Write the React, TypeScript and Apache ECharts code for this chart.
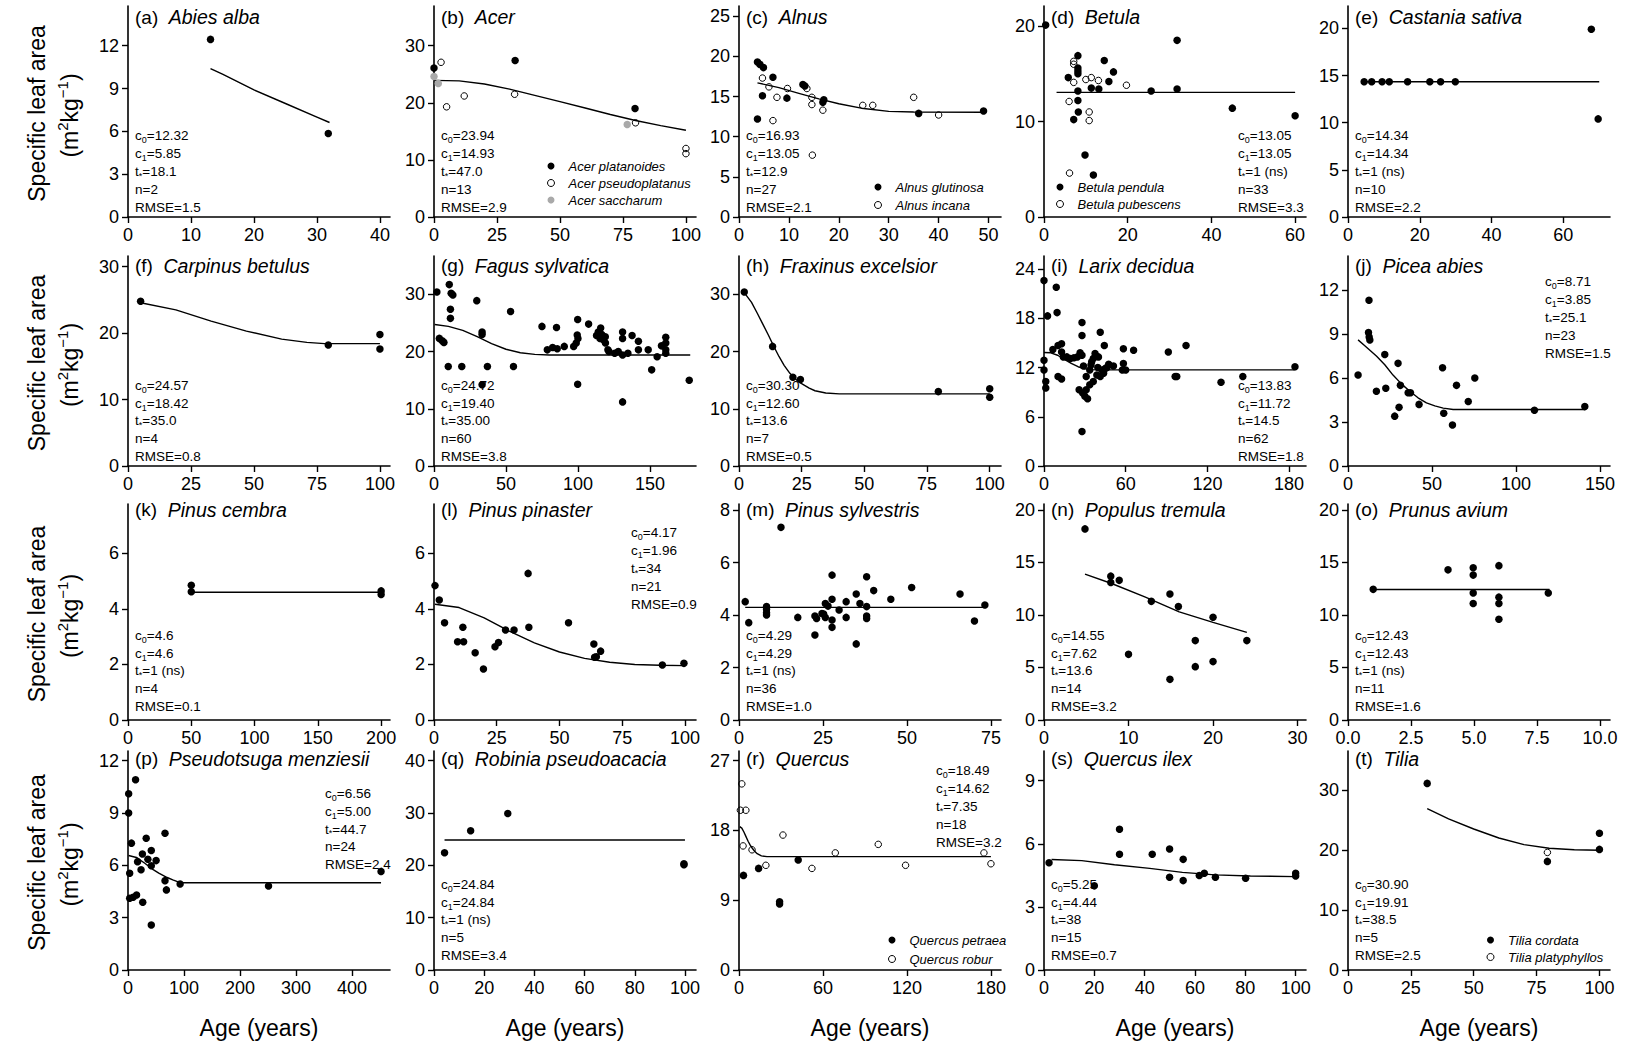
import React, { useEffect, useRef } from "react";
import * as echarts from "echarts";

const FONT = "'Liberation Sans', Arial, Helvetica, sans-serif";

// ---------- page layout (pixels) ----------
const CANVAS_W = 1625;
const CANVAS_H = 1044;
const COL_LEFT = [128, 434, 739, 1044, 1348];
const ROW_TOP = [6, 256, 504, 751];
const ROW_BOTTOM = [217, 466, 720, 970];
const PLOT_W = 262;
const TITLE_Y = [17, 265.5, 509.5, 758.5];
const STATS_LAST = [10, 9.5, 13.5, 14.5];
const STATS_LINE = 17.8;

// ---------- observations (age in years, SLA in m2/kg) ----------
// (a) Abies alba
const abiesAlba = [[13.1, 12.44], [31.8, 5.85]];
const abiesAlbaFit = [[13.1, 10.4], [15, 10.0], [20, 8.9], [25, 7.95], [30, 7.0], [32, 6.62]];
const abiesAlbaStats = ["12.32", "5.85", "18.1", "2", "1.5"];

// (b) Acer
const acerPlatanoides = [[0, 26.1], [32.2, 27.4], [79.8, 19.0]];
const acerPseudoplatanus = [[2.8, 27.1], [5, 19.3], [12, 21.2], [32, 21.5], [80, 16.5], [100, 12.0], [100, 11.1]];
const acerSaccharum = [[0, 24.6], [1.7, 23.4], [76.7, 16.2]];
const acerFit = [[0, 23.94], [10, 23.85], [20, 23.3], [30, 22.4], [40, 21.3], [50, 20.2], [60, 19.1], [70, 17.95], [80, 16.9], [90, 16.0], [100, 15.2]];
const acerStats = ["23.94", "14.93", "47.0", "13", "2.9"];

// (c) Alnus
const alnusGlutinosa = [[3.7, 19.3], [4.2, 19.0], [4.9, 18.6], [3.7, 12.2], [4.7, 15.1], [6.8, 17.4], [9.6, 14.8], [12.8, 16.5], [13.2, 16.3], [16.8, 14.3], [17, 14.6], [36, 12.9], [49, 13.2]];
const alnusIncana = [[4.7, 17.3], [6, 16.2], [6.8, 12.0], [7.6, 14.9], [9.7, 16.0], [13.6, 16.0], [14.6, 14.9], [14.6, 14.0], [14.7, 7.7], [16.8, 13.3], [24.8, 13.9], [26.8, 13.9], [35, 14.9], [40, 12.7]];
const alnusFit = [[3.7, 16.7], [8, 16.1], [12, 15.4], [16, 14.7], [20, 14.1], [25, 13.5], [30, 13.15], [35, 13.07], [49, 13.05]];
const alnusStats = ["16.93", "13.05", "12.9", "27", "2.1"];

// (d) Betula
const betulaPendula = [[0.4, 20.1], [5.8, 14.6], [8.1, 16.9], [8.1, 15.3], [8.1, 15.0], [8.1, 13.2], [8.1, 12.2], [7.1, 10.2], [8.2, 11.0], [11.3, 13.5], [9.8, 6.5], [11.8, 4.4], [13.1, 13.4], [14.4, 16.4], [15.5, 14.2], [16.6, 15.2], [25.6, 13.2], [31.8, 18.5], [31.8, 13.4], [45, 11.4], [60, 10.6], [8.1, 15.6]];
const betulaPubescens = [[7.1, 16.3], [7.1, 14.1], [6, 12.1], [10.8, 11.0], [10.8, 10.1], [10, 14.4], [6.1, 4.6], [11.3, 14.6], [13, 14.3], [19.7, 13.8], [7.1, 16.0]];
const betulaFit = [[3, 13.05], [60, 13.05]];
const betulaStats = ["13.05", "13.05", "1 (ns)", "33", "3.3"];

// (e) Castania sativa
const castaneaSativa = [[4.5, 14.34], [6.6, 14.34], [9.5, 14.34], [11.5, 14.34], [16.6, 14.34], [22.8, 14.34], [25.8, 14.34], [29.9, 14.34], [67.8, 19.9], [69.7, 10.4]];
const castaneaFit = [[4.5, 14.34], [70, 14.34]];
const castaneaStats = ["14.34", "14.34", "1 (ns)", "10", "2.2"];

// (f) Carpinus betulus
const carpinusBetulus = [[5, 24.8], [79.5, 18.2], [100, 19.8], [100, 17.6]];
const carpinusFit = [[5, 24.57], [19, 23.5], [33, 21.8], [47, 20.3], [61, 19.1], [71, 18.6], [78, 18.42], [100, 18.42]];
const carpinusStats = ["24.57", "18.42", "35.0", "4", "0.8"];

// (g) Fagus sylvatica
const fagusSylvatica = [
  [2, 30.4], [3.7, 22.3], [5.7, 21.9], [6.9, 21.6], [10.6, 31.7], [11.9, 30.2], [13.1, 29.9], [11.4, 27.4], [11.4, 25.8], [9.9, 17.4],
  [19.3, 17.4], [29.7, 28.9], [33.4, 23.4], [33.4, 23.0], [33.4, 14.2], [37.1, 17.4], [53.2, 27.0], [55.2, 17.4], [75, 24.4], [78.7, 20.3],
  [82.4, 20.7], [85.6, 20.5], [90.5, 20.9], [85.1, 24.2], [97, 20.9], [98.8, 21.5], [99.5, 22.9], [100, 22.3], [99.8, 25.6], [99.8, 14.3],
  [107.4, 24.8], [112.9, 22.8], [114.1, 23.4], [115.8, 24.1], [115.3, 22.3], [117.8, 22.0], [119.1, 21.5], [120.8, 20.3], [121.5, 20.0], [125.5, 19.7],
  [131, 19.4], [134.7, 19.7], [131, 23.4], [131, 22.3], [131, 11.2], [137.6, 22.8], [142, 21.8], [142, 20.3], [148.8, 20.3], [151.2, 16.8],
  [155, 19.1], [161, 22.5], [161, 21.5], [161, 20.3], [161, 19.7], [177.3, 15.0], [116.5, 23.0], [119, 22.6], [128, 20.0], [158, 21.0],
];
const fagusFit = [[0.5, 24.72], [10, 24.4], [20, 23.7], [30, 22.6], [40, 21.4], [50, 20.4], [60, 19.8], [70, 19.5], [80, 19.4], [178, 19.4]];
const fagusStats = ["24.72", "19.40", "35.00", "60", "3.8"];

// (h) Fraxinus excelsior
const fraxinusExcelsior = [[2.1, 30.4], [13.4, 20.9], [21.5, 15.5], [24.5, 15.1], [79.5, 13.0], [100, 13.5], [100, 12.0]];
const fraxinusFit = [[2.1, 30.3], [5, 28.6], [7.4, 26.6], [9.5, 24.8], [11.7, 22.9], [14, 20.8], [16, 19.1], [18, 17.6], [20.3, 16.2], [22.8, 15.1], [25.3, 14.3], [28, 13.6], [30.3, 13.15], [34.6, 12.75], [40, 12.6], [100, 12.6]];
const fraxinusStats = ["30.30", "12.60", "13.6", "7", "0.5"];

// (i) Larix decidua
const larixDecidua = [
  [0, 22.6], [2.6, 18.3], [0, 12.9], [0, 11.7], [1.3, 10.3], [1.3, 9.5], [9, 21.8], [9.6, 18.7], [6.5, 14.2], [10.3, 14.7],
  [12.9, 14.9], [12.9, 13.9], [14.2, 13.3], [10.3, 10.9], [12.9, 10.6], [16.8, 13.3], [19.4, 13.1], [22, 13.2], [24.5, 13.3], [27.9, 17.5],
  [27.9, 15.9], [27.9, 13.5], [27.9, 4.2], [25.8, 9.3], [28.4, 8.9], [31, 9.3], [33.6, 9.9], [36.2, 10.3], [38.8, 11.1], [31, 10.9],
  [33.6, 11.7], [36.2, 13.1], [40, 13.3], [41.3, 16.3], [44.3, 14.7], [35, 12.7], [37.5, 13.7], [41.3, 10.9], [43.8, 11.3], [30, 8.5],
  [32, 8.2], [42.5, 11.7], [45, 11.9], [46.3, 12.0], [58.3, 14.3], [58.3, 12.5], [57.5, 11.7], [60, 11.7], [65.8, 14.1], [91.3, 13.9],
  [96.3, 10.9], [97.5, 10.9], [104.3, 14.7], [130, 10.2], [146, 10.9], [184.3, 12.1], [26.5, 13.8], [29, 12.2], [34.5, 12.3], [39.5, 12.0],
  [47.5, 12.4], [51, 12.2],
];
const larixFit = [[0, 13.83], [5, 13.8], [10, 13.5], [15, 13.0], [20, 12.5], [25, 12.1], [30, 11.85], [35, 11.75], [40, 11.72], [184, 11.72]];
const larixStats = ["13.83", "11.72", "14.5", "62", "1.8"];

// (j) Picea abies
const piceaAbies = [[6, 6.2], [12.5, 11.3], [12.2, 9.1], [12.6, 8.8], [13, 8.6], [16.9, 5.1], [21.9, 7.6], [22.5, 5.3], [27.8, 3.4], [29.8, 7.0], [30.4, 4.0], [31.2, 5.5], [35.8, 5.0], [37.2, 5.0], [42.3, 4.2], [56.3, 6.7], [57, 3.6], [62.2, 2.8], [64.6, 5.5], [71.6, 4.4], [75.5, 6.0], [111, 3.8], [141, 4.05]];
const piceaFit = [[6, 8.6], [10, 8.2], [16.9, 7.5], [21.9, 6.9], [26.8, 6.2], [31.8, 5.6], [36.8, 5.1], [41.7, 4.65], [46.7, 4.3], [51.7, 4.1], [56.7, 3.95], [62.6, 3.85], [141, 3.85]];
const piceaStats = ["8.71", "3.85", "25.1", "23", "1.5"];

// (k) Pinus cembra
const pinusCembra = [[50, 4.85], [50, 4.62], [200, 4.65], [200, 4.52]];
const cembraFit = [[50, 4.6], [200, 4.6]];
const cembraStats = ["4.6", "4.6", "1 (ns)", "4", "0.1"];

// (l) Pinus pinaster
const pinusPinaster = [[0.4, 4.84], [2.1, 4.32], [4.2, 3.5], [9.4, 2.82], [11.8, 2.82], [11.5, 3.34], [16.4, 2.42], [19.7, 1.84], [24.3, 2.64], [25.7, 2.79], [28.5, 3.24], [31.9, 3.24], [37.5, 5.28], [37.8, 3.34], [53.6, 3.5], [63.7, 2.74], [64, 2.26], [64.7, 2.28], [66.4, 2.48], [91, 1.98], [99.6, 2.04]];
const pinasterFit = [[0.4, 4.17], [10, 4.05], [20, 3.68], [30, 3.2], [40, 2.78], [50, 2.45], [60, 2.22], [70, 2.08], [80, 2.0], [90, 1.97], [100, 1.96]];
const pinasterStats = ["4.17", "1.96", "34", "21", "0.9"];

// (m) Pinus sylvestris
const pinusSylvestris = [
  [1.85, 4.51], [2.9, 3.71], [8.2, 4.32], [8.2, 4.22], [8.2, 4.09], [8.2, 4.0], [12.5, 7.34], [17.5, 3.91], [22.6, 3.96], [23.1, 3.87],
  [24.7, 4.06], [22.6, 3.24], [25.2, 4.04], [25.7, 3.91], [25.7, 4.44], [26.5, 4.34], [27.7, 5.52], [27.7, 4.6], [27.7, 3.81], [27.7, 3.53],
  [29.8, 4.19], [31.9, 4.51], [31.9, 3.91], [34.9, 4.8], [34.9, 2.9], [36, 4.44], [38, 5.46], [38, 4.32], [38, 3.96], [38, 3.87],
  [40.1, 4.93], [45.2, 4.6], [51.4, 5.05], [65.8, 4.8], [70.1, 3.77], [73.2, 4.38],
];
const sylvestrisFit = [[1.85, 4.29], [73.2, 4.29]];
const sylvestrisStats = ["4.29", "4.29", "1 (ns)", "36", "1.0"];

// (n) Populus tremula
const populusTremula = [[4.85, 18.2], [7.9, 13.7], [7.9, 13.1], [8.9, 13.3], [10, 6.25], [12.7, 11.3], [14.9, 12.0], [15.9, 10.8], [14.9, 3.87], [17.9, 7.56], [17.9, 5.08], [20, 9.78], [20, 5.56], [24, 7.56]];
const populusFit = [[4.85, 13.9], [8, 13.0], [12, 11.7], [16, 10.3], [20, 9.3], [24, 8.35]];
const populusStats = ["14.55", "7.62", "13.6", "14", "3.2"];

// (o) Prunus avium
const prunusAvium = [[1, 12.44], [3.97, 14.3], [4.97, 14.5], [4.97, 13.8], [4.97, 12.1], [4.97, 11.1], [5.99, 14.7], [5.99, 11.7], [5.99, 11.1], [5.99, 9.6], [7.95, 12.1]];
const prunusFit = [[1, 12.43], [8, 12.43]];
const prunusStats = ["12.43", "12.43", "1 (ns)", "11", "1.6"];

// (p) Pseudotsuga menziesii
const pseudotsuga = [[1.2, 10.1], [1.2, 9.0], [3, 5.54], [3, 4.11], [6.1, 7.27], [13.5, 10.9], [9.2, 4.17], [15.3, 4.3], [17.1, 6.21], [23.3, 5.74], [25.7, 6.65], [26.3, 3.88], [32.5, 7.55], [35.5, 6.35], [41.6, 6.85], [41.6, 5.97], [41.6, 2.58], [50.2, 6.27], [66.1, 7.84], [66.1, 5.12], [68.6, 4.59], [93.1, 4.93], [251, 4.82], [452, 5.64]];
const pseudotsugaFit = [[1, 6.56], [15, 6.45], [30, 6.12], [45, 5.75], [55, 5.55], [70, 5.3], [80, 5.16], [92, 5.02], [100, 5.0], [452, 5.0]];
const pseudotsugaStats = ["6.56", "5.00", "44.7", "24", "2.4"];

// (q) Robinia pseudoacacia
const robinia = [[4.2, 22.4], [14.6, 26.6], [29.4, 29.9], [99.6, 20.1], [99.6, 20.3]];
const robiniaFit = [[4.2, 24.84], [100, 24.84]];
const robiniaStats = ["24.84", "24.84", "1 (ns)", "5", "3.4"];

// (r) Quercus
const quercusPetraea = [[3.2, 12.2], [14, 13.1], [29, 8.8], [29, 8.5], [42.3, 14.2]];
const quercusRobur = [[2, 24.0], [1, 20.6], [4.9, 20.6], [2.9, 16.0], [9.3, 15.5], [19.2, 13.5], [31.4, 17.4], [52.1, 13.1], [68.8, 15.1], [99.5, 16.2], [119, 13.5], [175, 15.1], [180, 13.7]];
const quercusFit = [[0.5, 18.49], [2, 18.3], [3.5, 17.8], [5, 17.2], [6.5, 16.6], [8, 16.1], [9.5, 15.7], [11, 15.35], [13, 15.0], [16, 14.72], [20, 14.62], [180, 14.62]];
const quercusStats = ["18.49", "14.62", "7.35", "18", "3.2"];

// (s) Quercus ilex
const quercusIlex = [[2, 5.1], [20, 4.0], [30, 6.69], [30, 5.5], [43, 5.5], [49.9, 5.75], [49.9, 4.41], [55.3, 5.26], [55.3, 4.25], [61.7, 4.49], [63.7, 4.6], [68.1, 4.41], [80.1, 4.36], [100, 4.6], [100, 4.47]];
const ilexFit = [[3, 5.25], [15, 5.2], [28, 5.0], [42, 4.83], [55, 4.64], [68, 4.52], [82, 4.47], [100, 4.44]];
const ilexStats = ["5.25", "4.44", "38", "15", "0.7"];

// (t) Tilia
const tiliaCordata = [[31.5, 31.1], [79.3, 18.1], [100, 22.8], [100, 20.1]];
const tiliaPlatyphyllos = [[79.3, 19.6]];
const tiliaFit = [[31.5, 26.9], [40, 25.2], [50, 23.5], [60, 22.0], [70, 20.9], [80, 20.3], [90, 20.05], [100, 19.95]];
const tiliaStats = ["30.90", "19.91", "38.5", "5", "2.5"];

// ---------- panel descriptions ----------
type Kind = "filled" | "open" | "grey";
interface Group { data: number[][]; kind: Kind; name?: string }
interface Panel {
  tag: string;
  species: string;
  xMax: number;
  yMax: number;
  xTicks: number[];
  yTicks: number[];
  xDecimals?: number;
  groups: Group[];
  fit: number[][];
  stats: string[];
  statsAt: "bl" | "br" | "tr";
  statsTop?: number;
  legend?: [number, number, number];
}

const panels: Panel[] = [
  { tag: "(a)", species: "Abies alba", xMax: 41.6, yMax: 14.78, xTicks: [0, 10, 20, 30, 40], yTicks: [0, 3, 6, 9, 12], groups: [{ data: abiesAlba, kind: "filled" }], fit: abiesAlbaFit, stats: abiesAlbaStats, statsAt: "bl" },
  {
    tag: "(b)", species: "Acer", xMax: 104, yMax: 36.96, xTicks: [0, 25, 50, 75, 100], yTicks: [0, 10, 20, 30],
    groups: [
      { data: acerPlatanoides, kind: "filled", name: "Acer platanoides" },
      { data: acerPseudoplatanus, kind: "open", name: "Acer pseudoplatanus" },
      { data: acerSaccharum, kind: "grey", name: "Acer saccharum" },
    ],
    fit: acerFit, stats: acerStats, statsAt: "bl", legend: [547, 159, 3],
  },
  {
    tag: "(c)", species: "Alnus", xMax: 52.5, yMax: 26.27, xTicks: [0, 10, 20, 30, 40, 50], yTicks: [0, 5, 10, 15, 20, 25],
    groups: [
      { data: alnusGlutinosa, kind: "filled", name: "Alnus glutinosa" },
      { data: alnusIncana, kind: "open", name: "Alnus incana" },
    ],
    fit: alnusFit, stats: alnusStats, statsAt: "bl", legend: [874, 180, 4],
  },
  {
    tag: "(d)", species: "Betula", xMax: 62.6, yMax: 22.1, xTicks: [0, 20, 40, 60], yTicks: [0, 10, 20],
    groups: [
      { data: betulaPendula, kind: "filled", name: "Betula pendula" },
      { data: betulaPubescens, kind: "open", name: "Betula pubescens" },
    ],
    fit: betulaFit, stats: betulaStats, statsAt: "br", legend: [1056, 180, 3],
  },
  { tag: "(e)", species: "Castania sativa", xMax: 73, yMax: 22.37, xTicks: [0, 20, 40, 60], yTicks: [0, 5, 10, 15, 20], groups: [{ data: castaneaSativa, kind: "filled" }], fit: castaneaFit, stats: castaneaStats, statsAt: "bl" },
  { tag: "(f)", species: "Carpinus betulus", xMax: 104, yMax: 31.6, xTicks: [0, 25, 50, 75, 100], yTicks: [0, 10, 20, 30], groups: [{ data: carpinusBetulus, kind: "filled" }], fit: carpinusFit, stats: carpinusStats, statsAt: "bl" },
  { tag: "(g)", species: "Fagus sylvatica", xMax: 182, yMax: 36.7, xTicks: [0, 50, 100, 150], yTicks: [0, 10, 20, 30], groups: [{ data: fagusSylvatica, kind: "filled" }], fit: fagusFit, stats: fagusStats, statsAt: "bl" },
  { tag: "(h)", species: "Fraxinus excelsior", xMax: 104.5, yMax: 36.7, xTicks: [0, 25, 50, 75, 100], yTicks: [0, 10, 20, 30], groups: [{ data: fraxinusExcelsior, kind: "filled" }], fit: fraxinusFit, stats: fraxinusStats, statsAt: "bl" },
  { tag: "(i)", species: "Larix decidua", xMax: 192.4, yMax: 25.6, xTicks: [0, 60, 120, 180], yTicks: [0, 6, 12, 18, 24], groups: [{ data: larixDecidua, kind: "filled" }], fit: larixFit, stats: larixStats, statsAt: "br" },
  { tag: "(j)", species: "Picea abies", xMax: 156, yMax: 14.32, xTicks: [0, 50, 100, 150], yTicks: [0, 3, 6, 9, 12], groups: [{ data: piceaAbies, kind: "filled" }], fit: piceaFit, stats: piceaStats, statsAt: "tr", statsTop: 282 },
  { tag: "(k)", species: "Pinus cembra", xMax: 207, yMax: 7.78, xTicks: [0, 50, 100, 150, 200], yTicks: [0, 2, 4, 6], groups: [{ data: pinusCembra, kind: "filled" }], fit: cembraFit, stats: cembraStats, statsAt: "bl" },
  { tag: "(l)", species: "Pinus pinaster", xMax: 104.4, yMax: 7.78, xTicks: [0, 25, 50, 75, 100], yTicks: [0, 2, 4, 6], groups: [{ data: pinusPinaster, kind: "filled" }], fit: pinasterFit, stats: pinasterStats, statsAt: "tr", statsTop: 533 },
  { tag: "(m)", species: "Pinus sylvestris", xMax: 78, yMax: 8.23, xTicks: [0, 25, 50, 75], yTicks: [0, 2, 4, 6, 8], groups: [{ data: pinusSylvestris, kind: "filled" }], fit: sylvestrisFit, stats: sylvestrisStats, statsAt: "bl" },
  { tag: "(n)", species: "Populus tremula", xMax: 31, yMax: 20.57, xTicks: [0, 10, 20, 30], yTicks: [0, 5, 10, 15, 20], groups: [{ data: populusTremula, kind: "filled" }], fit: populusFit, stats: populusStats, statsAt: "bl" },
  { tag: "(o)", species: "Prunus avium", xMax: 10.4, yMax: 20.57, xTicks: [0, 2.5, 5, 7.5, 10], yTicks: [0, 5, 10, 15, 20], xDecimals: 1, groups: [{ data: prunusAvium, kind: "filled" }], fit: prunusFit, stats: prunusStats, statsAt: "bl" },
  { tag: "(p)", species: "Pseudotsuga menziesii", xMax: 468, yMax: 12.55, xTicks: [0, 100, 200, 300, 400], yTicks: [0, 3, 6, 9, 12], groups: [{ data: pseudotsuga, kind: "filled" }], fit: pseudotsugaFit, stats: pseudotsugaStats, statsAt: "tr", statsTop: 793.5 },
  { tag: "(q)", species: "Robinia pseudoacacia", xMax: 104.4, yMax: 41.85, xTicks: [0, 20, 40, 60, 80, 100], yTicks: [0, 10, 20, 30, 40], groups: [{ data: robinia, kind: "filled" }], fit: robiniaFit, stats: robiniaStats, statsAt: "bl" },
  {
    tag: "(r)", species: "Quercus", xMax: 187.2, yMax: 28.24, xTicks: [0, 60, 120, 180], yTicks: [0, 9, 18, 27],
    groups: [
      { data: quercusPetraea, kind: "filled", name: "Quercus petraea" },
      { data: quercusRobur, kind: "open", name: "Quercus robur" },
    ],
    fit: quercusFit, stats: quercusStats, statsAt: "tr", statsTop: 771, legend: [888, 933, 5],
  },
  { tag: "(s)", species: "Quercus ilex", xMax: 104.1, yMax: 10.41, xTicks: [0, 20, 40, 60, 80, 100], yTicks: [0, 3, 6, 9], groups: [{ data: quercusIlex, kind: "filled" }], fit: ilexFit, stats: ilexStats, statsAt: "bl" },
  {
    tag: "(t)", species: "Tilia", xMax: 104.2, yMax: 36.5, xTicks: [0, 25, 50, 75, 100], yTicks: [0, 10, 20, 30],
    groups: [
      { data: tiliaCordata, kind: "filled", name: "Tilia cordata" },
      { data: tiliaPlatyphyllos, kind: "open", name: "Tilia platyphyllos" },
    ],
    fit: tiliaFit, stats: tiliaStats, statsAt: "bl", legend: [1486.5, 933, 3],
  },
];

// ---------- option builder ----------
function markerStyle(kind: Kind) {
  if (kind === "filled") return { color: "#000", opacity: 1 };
  if (kind === "grey") return { color: "#a9a9a9", opacity: 1 };
  return { color: "rgba(255,255,255,0)", borderColor: "#000", borderWidth: 1, opacity: 1 };
}

function axisCommon(ticks: number[], margin: number, decimals?: number) {
  return {
    type: "value",
    min: 0,
    axisLine: { show: true, onZero: false, lineStyle: { color: "#000", width: 1.6 } },
    axisTick: { show: true, inside: false, length: 6, customValues: ticks, lineStyle: { color: "#000", width: 1.4 } },
    axisLabel: {
      show: true,
      customValues: ticks,
      margin,
      fontSize: 18,
      fontFamily: FONT,
      color: "#000",
      hideOverlap: false,
      formatter: (v: number) => (decimals ? v.toFixed(decimals) : String(v)),
    },
    splitLine: { show: false },
    splitArea: { show: false },
  };
}

function buildOption() {
  const grid: any[] = [];
  const xAxis: any[] = [];
  const yAxis: any[] = [];
  const series: any[] = [];
  const graphic: any[] = [];
  const legend: any[] = [];

  panels.forEach((p, i) => {
    const col = i % 5;
    const row = Math.floor(i / 5);
    const left = COL_LEFT[col];
    const top = ROW_TOP[row];
    const bottom = ROW_BOTTOM[row];

    grid.push({ left, top, width: PLOT_W, height: bottom - top, containLabel: false, outerBoundsMode: "none" });
    xAxis.push({ gridIndex: i, max: p.xMax, ...axisCommon(p.xTicks, 9, p.xDecimals) });
    yAxis.push({ gridIndex: i, max: p.yMax, ...axisCommon(p.yTicks, 9) });

    series.push({
      type: "line",
      name: `fit ${p.tag}`,
      xAxisIndex: i,
      yAxisIndex: i,
      data: p.fit,
      showSymbol: false,
      symbol: "none",
      smooth: false,
      lineStyle: { color: "#000", width: 1.4, opacity: 1 },
      silent: true,
      z: 2,
    });

    p.groups.forEach((g, gi) => {
      series.push({
        type: "scatter",
        name: g.name || `obs ${p.tag} ${gi}`,
        xAxisIndex: i,
        yAxisIndex: i,
        data: g.data,
        symbol: "circle",
        symbolSize: g.kind === "open" ? 6.5 : 7.5,
        itemStyle: markerStyle(g.kind),
        silent: true,
        z: 3,
      });
    });

    if (p.legend) {
      const [lx, ly, gap] = p.legend;
      legend.push({
        data: p.groups.map((g) => (g.kind === "open" ? { name: g.name, itemStyle: { borderWidth: 1 } } : { name: g.name })),
        left: lx,
        top: ly,
        orient: "vertical",
        icon: "circle",
        itemWidth: 7,
        itemHeight: 7,
        itemGap: gap,
        padding: 0,
        selectedMode: false,
        textStyle: { fontSize: 13, fontStyle: "italic", fontFamily: FONT, color: "#000", lineHeight: 14, padding: [0, 0, 0, 9] },
      });
    }

    // panel title: letter + italic species name
    graphic.push({
      type: "text",
      x: left + 7,
      y: TITLE_Y[row],
      silent: true,
      z: 10,
      style: {
        text: `${p.tag}  {i|${p.species}}`,
        fontSize: 19,
        fontFamily: FONT,
        fill: "#000",
        textAlign: "left",
        textVerticalAlign: "middle",
        rich: { i: { fontSize: 19.5, fontStyle: "italic", fontFamily: FONT, fill: "#000" } },
      },
    });

    // fitted parameters
    const st = p.stats;
    const statsText = [`c{s|0}=${st[0]}`, `c{s|1}=${st[1]}`, `t{s|*}=${st[2]}`, `n=${st[3]}`, `RMSE=${st[4]}`].join("\n");
    let sx = left + 7;
    let sy = bottom - STATS_LAST[row] + STATS_LINE / 2;
    let vAlign = "bottom";
    if (p.statsAt === "br") sx = left + 194;
    if (p.statsAt === "tr") {
      sx = left + 197;
      sy = (p.statsTop as number) - STATS_LINE / 2;
      vAlign = "top";
    }
    graphic.push({
      type: "text",
      x: sx,
      y: sy,
      silent: true,
      z: 10,
      style: {
        text: statsText,
        fontSize: 13.5,
        fontFamily: FONT,
        fill: "#000",
        lineHeight: STATS_LINE,
        textAlign: "left",
        textVerticalAlign: vAlign,
        rich: { s: { fontSize: 9, lineHeight: 10, verticalAlign: "bottom", fontFamily: FONT, fill: "#000" } },
      },
    });
  });

  // y-axis titles, one per row
  ROW_TOP.forEach((t, r) => {
    const mid = (t + ROW_BOTTOM[r]) / 2 + 2;
    graphic.push({
      type: "text",
      x: 37,
      y: mid,
      rotation: Math.PI / 2,
      silent: true,
      style: { text: "Specific leaf area", fontSize: 23, fontFamily: FONT, fill: "#000", textAlign: "center", textVerticalAlign: "middle" },
    });
    graphic.push({
      type: "text",
      x: 70,
      y: mid + 2,
      rotation: Math.PI / 2,
      silent: true,
      style: {
        text: "(m{sup|2}kg{sup|\u22121})",
        fontSize: 23,
        lineHeight: 30,
        fontFamily: FONT,
        fill: "#000",
        textAlign: "center",
        textVerticalAlign: "middle",
        rich: { sup: { fontSize: 15, lineHeight: 16, verticalAlign: "top", fontFamily: FONT, fill: "#000" } },
      },
    });
  });

  // x-axis titles under the bottom row
  COL_LEFT.forEach((l) => {
    graphic.push({
      type: "text",
      x: l + PLOT_W / 2,
      y: 1028,
      silent: true,
      style: { text: "Age (years)", fontSize: 23, fontFamily: FONT, fill: "#000", textAlign: "center", textVerticalAlign: "middle" },
    });
  });

  return {
    animation: false,
    backgroundColor: "#ffffff",
    grid,
    xAxis,
    yAxis,
    series,
    legend,
    graphic,
  };
}

export default function App() {
  const ref = useRef<HTMLDivElement | null>(null);

  useEffect(() => {
    document.body.style.margin = "0";
    if (!ref.current) return;
    const chart = echarts.init(ref.current, undefined, { renderer: "svg", width: CANVAS_W, height: CANVAS_H });
    chart.setOption(buildOption() as any);
    return () => {
      chart.dispose();
    };
  }, []);

  return <div ref={ref} style={{ width: CANVAS_W, height: CANVAS_H, background: "#fff" }} />;
}
